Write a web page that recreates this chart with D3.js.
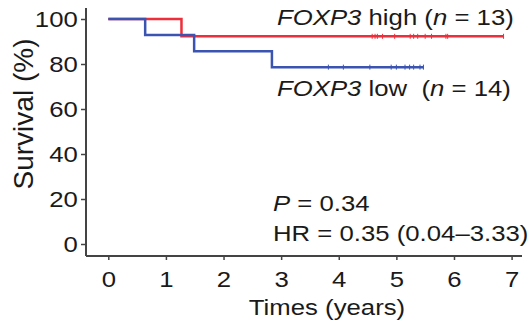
<!DOCTYPE html>
<html>
<head>
<meta charset="utf-8">
<script src="https://cdn.jsdelivr.net/npm/d3@7"></script>
<style>
  body { margin: 0; background: #fff; }
  text { font-family: "Liberation Sans", Arial, sans-serif; fill: #1a1a1a; }
</style>
</head>
<body>
<script>
var width = 530,
    height = 325;

// data
var xTicks = [0, 1, 2, 3, 4, 5, 6, 7];
var yTicks = [0, 20, 40, 60, 80, 100];

// step points (time in years, survival %)
var highSteps = [[0, 100], [1.27, 100], [1.27, 92.3], [6.86, 92.3]];
var lowSteps = [[0, 100], [0.64, 100], [0.64, 92.9], [1.49, 92.9], [1.49, 85.7],
                [2.84, 85.7], [2.84, 78.6], [5.47, 78.6]];

// censored times
var highCensor = [4.58, 4.63, 4.67, 4.76, 4.97, 5.24, 5.30, 5.37, 5.50, 5.61, 5.86, 5.89];
var lowCensor = [3.82, 4.08, 4.54, 4.91, 5.0, 5.15, 5.23, 5.30, 5.41];

var sx = 1.17; // text in the source is a bit wide

var svg = d3.select("body").append("svg")
    .attr("width", width)
    .attr("height", height);

var x = d3.scaleLinear().domain([0, 7]).range([108.3, 511.6]);
var y = d3.scaleLinear().domain([0, 100]).range([244, 19]);

var axisX = 86, axisY = 256;

// axes
var gy = svg.append("g")
    .attr("transform", "translate(" + axisX + ",0)")
    .call(d3.axisLeft(y).tickValues(yTicks).tickSize(5).tickPadding(2).tickSizeOuter(0));
gy.select(".domain").remove();

var gx = svg.append("g")
    .attr("transform", "translate(0," + axisY + ")")
    .call(d3.axisBottom(x).tickValues(xTicks).tickFormat(d3.format("d"))
      .tickSize(4).tickPadding(11).tickSizeOuter(0));
gx.select(".domain").remove();

svg.selectAll(".tick line").attr("stroke", "#444").attr("stroke-width", 1.5);
svg.selectAll(".tick text")
    .style("font-size", "22px")
    .attr("fill", "#1a1a1a")
    .attr("transform", "scale(" + sx + ",1)");

svg.append("line")
    .attr("x1", axisX).attr("x2", axisX)
    .attr("y1", 8).attr("y2", axisY)
    .attr("stroke", "#444").attr("stroke-width", 2);
svg.append("line")
    .attr("x1", axisX).attr("x2", 522)
    .attr("y1", axisY).attr("y2", axisY)
    .attr("stroke", "#444").attr("stroke-width", 2);

// curves
var line = d3.line()
    .x(function(d) { return x(d[0]); })
    .y(function(d) { return y(d[1]); });

function drawCurve(steps, censor, level, col) {
  svg.append("path")
      .datum(steps)
      .attr("d", line)
      .attr("fill", "none")
      .attr("stroke", col)
      .attr("stroke-width", 2.5);
  svg.selectAll(null)
      .data(censor.concat([steps[steps.length - 1][0]]))
    .enter().append("line")
      .attr("x1", function(d) { return x(d); })
      .attr("x2", function(d) { return x(d); })
      .attr("y1", y(level) - 2.5)
      .attr("y2", y(level) + 2.5)
      .attr("stroke", col)
      .attr("stroke-width", 1);
}

drawCurve(highSteps, highCensor, 92.3, "#ee2e3a");
drawCurve(lowSteps, lowCensor, 78.6, "#3b54b2");

// labels
function label(xp, yp, parts, anchor) {
  var t = svg.append("text")
      .attr("transform", "translate(" + xp + "," + yp + ") scale(" + sx + ",1)")
      .attr("text-anchor", anchor || "start")
      .style("white-space", "pre")
      .style("font-size", "22px");
  parts.forEach(function(p) {
    t.append("tspan")
      .style("font-style", p[1] ? "italic" : "normal")
      .text(p[0]);
  });
  return t;
}

label(277, 25, [["FOXP3", true], [" high (", false], ["n", true], [" = 13)", false]]);
label(277, 96, [["FOXP3", true], [" low  (", false], ["n", true], [" = 14)", false]]);
label(273, 211, [["P", true], [" = 0.34", false]]);
label(273, 241, [["HR = 0.35 (0.04\u20133.33)", false]]);
label(327, 315, [["Times (years)", false]], "middle");

svg.append("text")
    .attr("transform", "translate(33,114) rotate(-90)")
    .attr("text-anchor", "middle")
    .style("font-size", "28px")
    .text("Survival (%)");
</script>
</body>
</html>
